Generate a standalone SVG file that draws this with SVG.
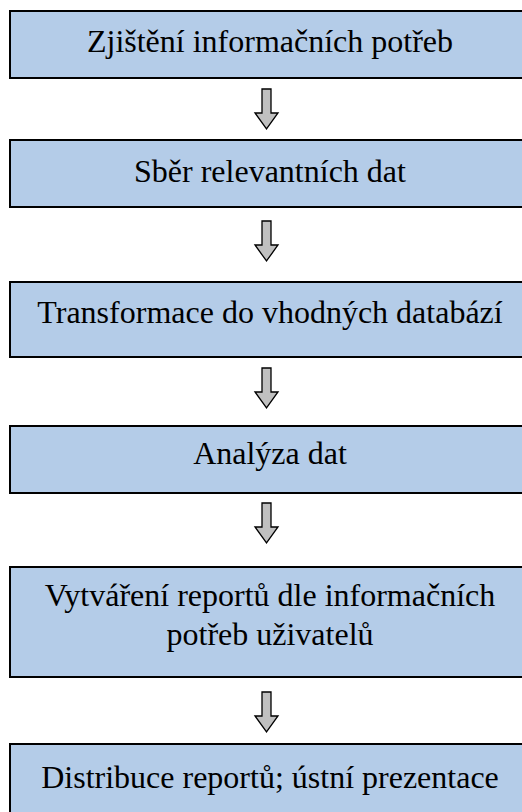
<svg xmlns="http://www.w3.org/2000/svg" width="522" height="812" viewBox="0 0 522 812">
  <defs>
    <!-- block down arrow, origin at the top centre of the shaft -->
    <path id="down-arrow" d="M-4.5,0 H4.5 V24 H11.5 L0,40 L-11.5,24 H-4.5 Z"/>
  </defs>
  <style>
    .box { fill: #b4cce8; stroke: #000; stroke-width: 2; }
    .label { font-family: "Liberation Serif", "Times New Roman", serif; font-size: 32px; fill: #000; text-anchor: middle; }
    .arrow { fill: #c0c0c0; stroke: #000; stroke-width: 1.3; stroke-linejoin: miter; }
  </style>
  <rect width="522" height="812" fill="#fff"/>

  <g id="step-1">
    <rect class="box" x="10" y="11" width="530" height="67"/>
    <text class="label" x="270" y="52">Zjištění informačních potřeb</text>
  </g>

  <g id="step-2">
    <rect class="box" x="10" y="140" width="530" height="67"/>
    <text class="label" x="270" y="182">Sběr relevantních dat</text>
  </g>

  <g id="step-3">
    <rect class="box" x="10" y="282" width="530" height="75"/>
    <text class="label" x="270" y="323">Transformace do vhodných databází</text>
  </g>

  <g id="step-4">
    <rect class="box" x="10" y="426" width="530" height="67"/>
    <text class="label" x="270" y="464">Analýza dat</text>
  </g>

  <g id="step-5">
    <rect class="box" x="10" y="567" width="530" height="110"/>
    <text class="label" x="270" y="606">Vytváření reportů dle informačních</text>
    <text class="label" x="270" y="645">potřeb uživatelů</text>
  </g>

  <g id="step-6">
    <rect class="box" x="10" y="744" width="530" height="90"/>
    <text class="label" x="270" y="788">Distribuce reportů; ústní prezentace</text>
  </g>

  <g id="connectors">
    <use class="arrow" href="#down-arrow" x="266.5" y="89"/>
    <use class="arrow" href="#down-arrow" x="266.5" y="221"/>
    <use class="arrow" href="#down-arrow" x="266.5" y="368"/>
    <use class="arrow" href="#down-arrow" x="266.5" y="503"/>
    <use class="arrow" href="#down-arrow" x="266.5" y="692"/>
  </g>
</svg>
